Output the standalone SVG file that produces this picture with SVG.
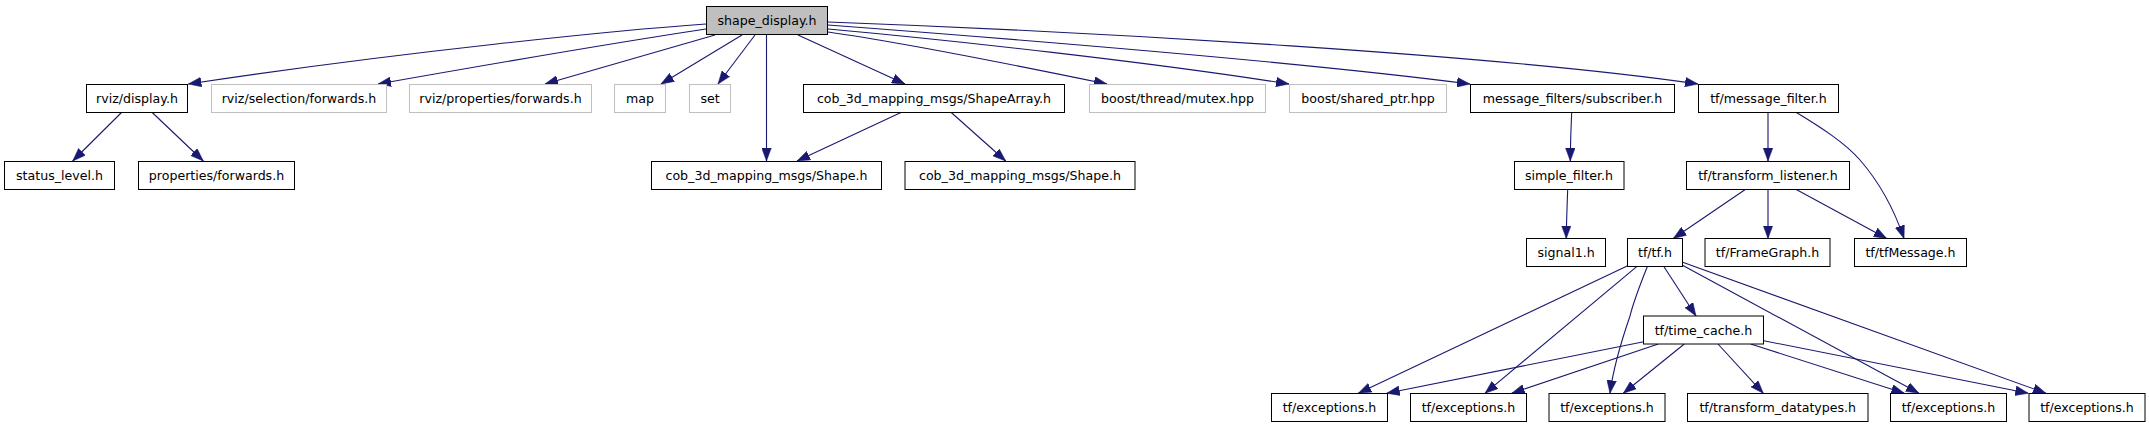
<svg xmlns="http://www.w3.org/2000/svg" width="2149" height="427" viewBox="0 0 2149 427">
<style>
.n rect{fill:#ffffff;stroke:#000000;stroke-width:1}
.n.g rect{stroke:#bfbfbf}
.n.root rect{fill:#bfbfbf}
.n text{font-family:"DejaVu Sans",sans-serif;font-size:12.6px;fill:#000000;text-anchor:middle}
#edges path{fill:none;stroke:#191970;stroke-width:1.1;marker-end:url(#arr)}
</style>
<defs>
<marker id="arr" markerUnits="userSpaceOnUse" markerWidth="13" markerHeight="10" viewBox="0 0 13 10" refX="13" refY="5" orient="auto">
<path d="M0,0.2 L13,5 L0,9.8 z" fill="#191970" stroke="#191970" stroke-width="0.5"/>
</marker>
</defs>
<rect width="2149" height="427" fill="#ffffff"/>
<g id="edges">
<path d="M706,24 C620,30 400,52 188.3,84"/>
<path d="M706,29 C600,45 480,66 378,84"/>
<path d="M715,35 L545,84"/>
<path d="M742,35 L661,84"/>
<path d="M755,35 L718,84"/>
<path d="M766.5,35 L766.5,161"/>
<path d="M798,35 L905,84"/>
<path d="M828,32 C900,42 1000,62 1107,84"/>
<path d="M828,29 C950,40 1150,62 1289,84"/>
<path d="M828,25 C1000,38 1300,62 1470,84"/>
<path d="M828,22 C1100,32 1500,55 1698,84"/>
<path d="M122,112 L72.7,161"/>
<path d="M151.7,112 L203.3,161"/>
<path d="M902,112 L797,161"/>
<path d="M950.7,112 L1005.7,161"/>
<path d="M1571.7,112 C1571,130 1570.3,145 1570.3,161"/>
<path d="M1567.7,189 C1567,210 1566.3,225 1566.3,238.5"/>
<path d="M1768,112 L1768,161"/>
<path d="M1796,112.3 C1822,128 1845,143 1860,160 C1880,183 1895,212 1904,238.5"/>
<path d="M1746,189 L1673.3,238.5"/>
<path d="M1768,189 L1768,238.5"/>
<path d="M1795.3,189 L1886.7,238.5"/>
<path d="M1627.7,265.7 L1358.3,393.3"/>
<path d="M1636.7,266.7 L1485,393.3"/>
<path d="M1647.3,266.7 C1640,285 1634,300 1630,316 C1620,345 1613,370 1610,393.3"/>
<path d="M1664,266.7 L1696,316"/>
<path d="M1682,265 L1919,393.3"/>
<path d="M1682,262 L2046,393.3"/>
<path d="M1643.7,341.7 L1386.7,393.3"/>
<path d="M1658.3,344 L1511.7,393.3"/>
<path d="M1684.3,344 L1623.3,393.3"/>
<path d="M1718,344 L1763.3,393.3"/>
<path d="M1750.7,344 L1904.3,393.3"/>
<path d="M1763.7,340.7 L2028.3,393.3"/>
</g>
<g id="n_shape_display" class="n root"><rect x="706.5" y="6.5" width="121" height="28"/><text x="767" y="25">shape_display.h</text></g>
<g id="n_rviz_display" class="n"><rect x="86.5" y="84.5" width="101" height="28"/><text x="137" y="103">rviz/display.h</text></g>
<g id="n_rviz_selection" class="n g"><rect x="211.5" y="84.5" width="175" height="28"/><text x="299" y="103">rviz/selection/forwards.h</text></g>
<g id="n_rviz_properties" class="n g"><rect x="409.5" y="84.5" width="182" height="28"/><text x="500.5" y="103">rviz/properties/forwards.h</text></g>
<g id="n_map" class="n g"><rect x="614.5" y="84.5" width="51" height="28"/><text x="640" y="103">map</text></g>
<g id="n_set" class="n g"><rect x="689.5" y="84.5" width="41" height="28"/><text x="710" y="103">set</text></g>
<g id="n_shapearray" class="n"><rect x="803.5" y="84.5" width="261" height="28"/><text x="934" y="103">cob_3d_mapping_msgs/ShapeArray.h</text></g>
<g id="n_mutex" class="n g"><rect x="1089.5" y="84.5" width="176" height="28"/><text x="1177.5" y="103">boost/thread/mutex.hpp</text></g>
<g id="n_shared_ptr" class="n g"><rect x="1289.5" y="84.5" width="157" height="28"/><text x="1368" y="103">boost/shared_ptr.hpp</text></g>
<g id="n_subscriber" class="n"><rect x="1470.5" y="84.5" width="204" height="28"/><text x="1572.5" y="103">message_filters/subscriber.h</text></g>
<g id="n_message_filter" class="n"><rect x="1698.5" y="84.5" width="140" height="28"/><text x="1768.5" y="103">tf/message_filter.h</text></g>
<g id="n_status_level" class="n"><rect x="4.5" y="161.5" width="110" height="28"/><text x="59.5" y="180">status_level.h</text></g>
<g id="n_properties_forwards" class="n"><rect x="138.5" y="161.5" width="156" height="28"/><text x="216.5" y="180">properties/forwards.h</text></g>
<g id="n_shape1" class="n"><rect x="651.5" y="161.5" width="230" height="28"/><text x="766.5" y="180">cob_3d_mapping_msgs/Shape.h</text></g>
<g id="n_shape2" class="n"><rect x="905" y="161.5" width="230" height="28"/><text x="1020" y="180">cob_3d_mapping_msgs/Shape.h</text></g>
<g id="n_simple_filter" class="n"><rect x="1514.5" y="161.5" width="109.5" height="28"/><text x="1569" y="180">simple_filter.h</text></g>
<g id="n_transform_listener" class="n"><rect x="1686.5" y="161.5" width="163" height="28"/><text x="1768" y="180">tf/transform_listener.h</text></g>
<g id="n_signal1" class="n"><rect x="1526.5" y="238.5" width="79" height="28"/><text x="1566" y="257">signal1.h</text></g>
<g id="n_tf" class="n"><rect x="1627.5" y="238.5" width="55" height="28"/><text x="1655" y="257">tf/tf.h</text></g>
<g id="n_framegraph" class="n"><rect x="1705" y="238.5" width="125" height="28"/><text x="1767.5" y="257">tf/FrameGraph.h</text></g>
<g id="n_tfmessage" class="n"><rect x="1854.5" y="238.5" width="112" height="28"/><text x="1910.5" y="257">tf/tfMessage.h</text></g>
<g id="n_time_cache" class="n"><rect x="1643.5" y="316" width="120" height="28"/><text x="1703.5" y="334.5">tf/time_cache.h</text></g>
<g id="n_exc1" class="n"><rect x="1271.5" y="393.5" width="116" height="28"/><text x="1329.5" y="412">tf/exceptions.h</text></g>
<g id="n_exc2" class="n"><rect x="1410.5" y="393.5" width="116" height="28"/><text x="1468.5" y="412">tf/exceptions.h</text></g>
<g id="n_exc3" class="n"><rect x="1549" y="393.5" width="116" height="28"/><text x="1607" y="412">tf/exceptions.h</text></g>
<g id="n_datatypes" class="n"><rect x="1687.5" y="393.5" width="180.5" height="28"/><text x="1777.75" y="412">tf/transform_datatypes.h</text></g>
<g id="n_exc4" class="n"><rect x="1890.5" y="393.5" width="116" height="28"/><text x="1948.5" y="412">tf/exceptions.h</text></g>
<g id="n_exc5" class="n"><rect x="2029" y="393.5" width="116" height="28"/><text x="2087" y="412">tf/exceptions.h</text></g>
</svg>
